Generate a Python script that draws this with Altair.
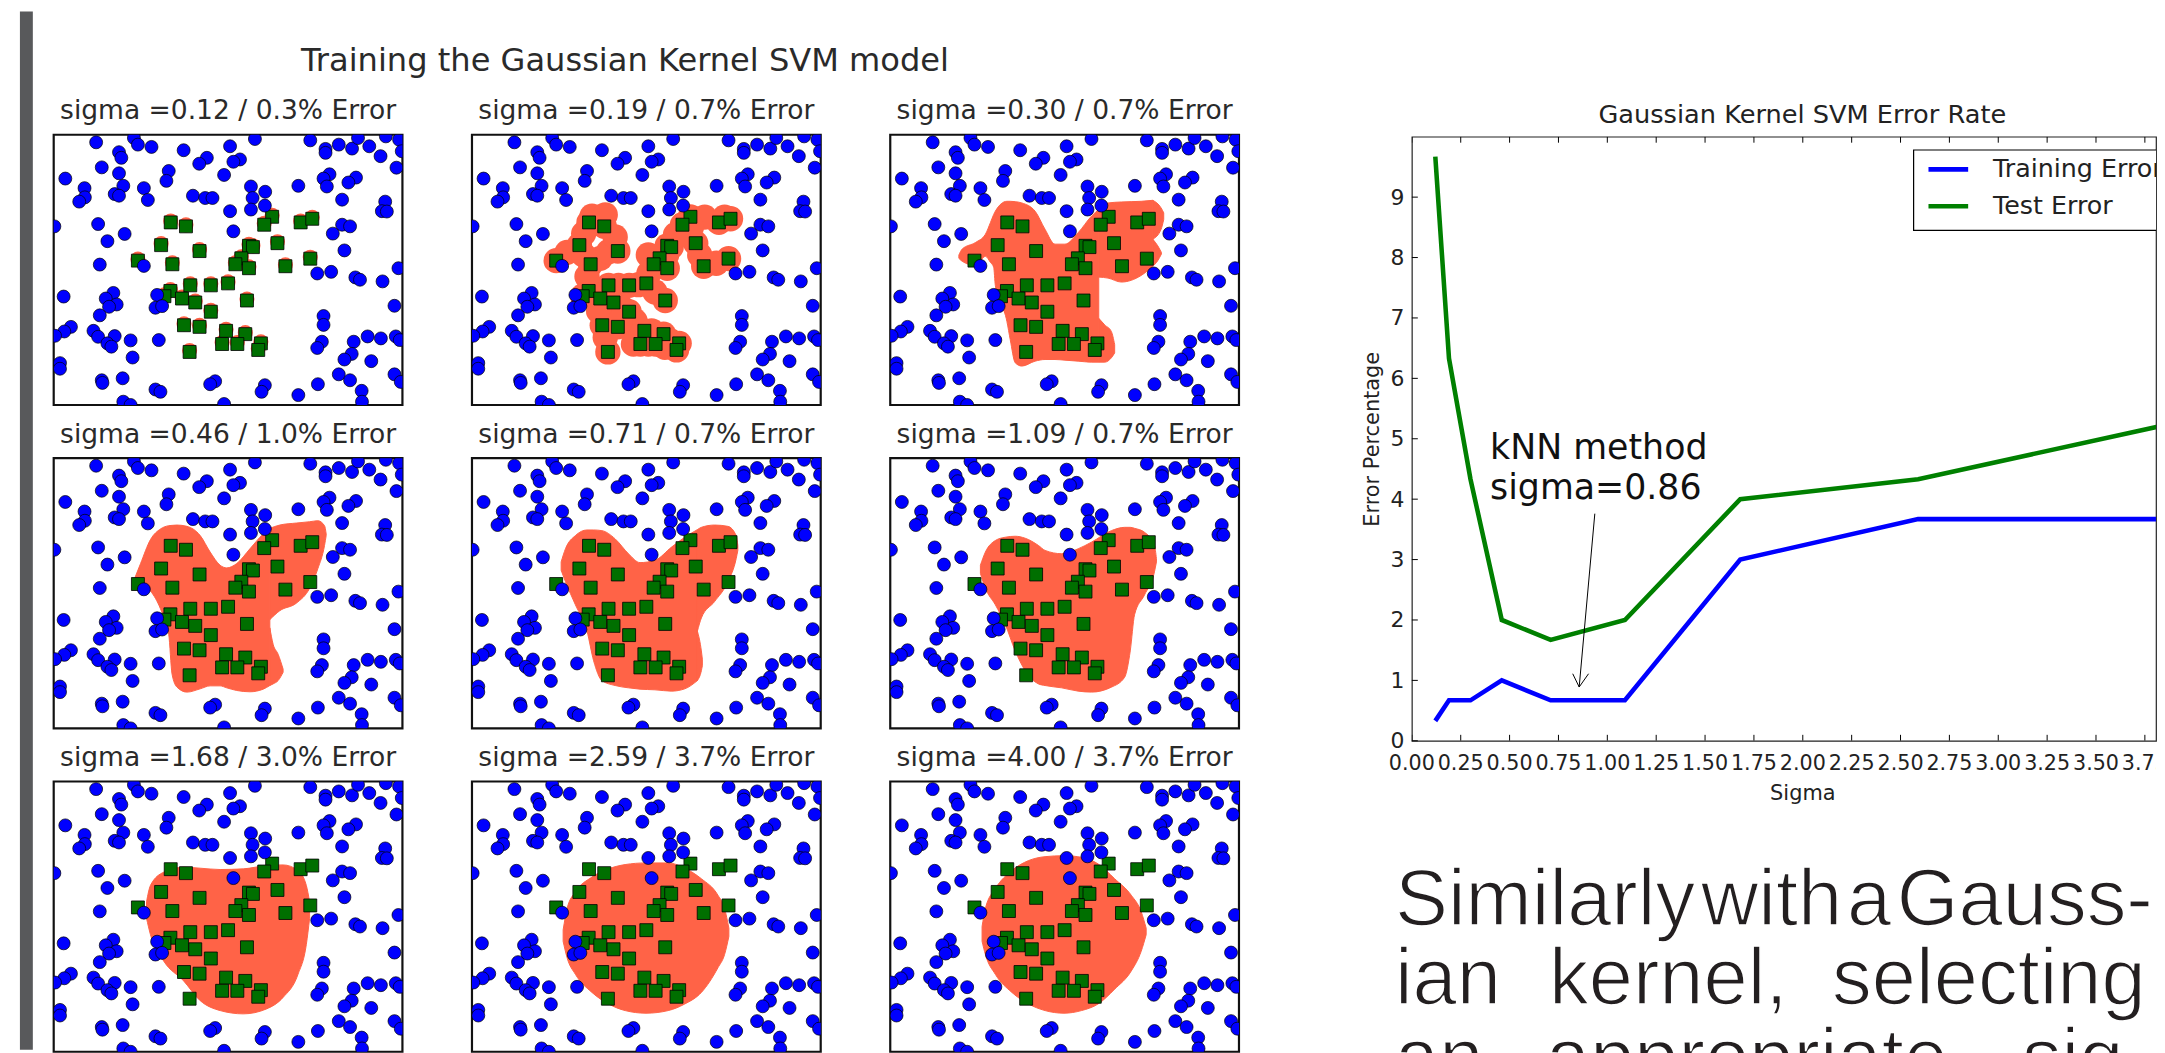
import altair as alt
import pandas as pd

FONT = "DejaVu Sans"
TOMATO = "#ff6347"

# ---- scatter data
BLUE_X = [166,280,292,333,235,242,430,570,645,812,858,858,898,938,956,990,1040,1024,1080,1088,1072,
          500,477,600,580,552,183,235,385,378,73,131,132,115,248,222,235,310,322,458,495,517,633,676,638,633,675,570,776,870,852,862,950,927,908,1038,1028,1043,
          172,252,200,40,580,908,932,880,915,177,310,1078,833,875,948,962,1030,68,218,195,228,205,177,350,345,365,1066,852,852,
          90,70,42,158,172,222,200,212,270,355,985,1025,1070,1082,847,833,943,937,915,996,276,57,57,898,932,1066,1085,183,185,246,345,360,525,510,675,665,776,835,967,968,248,270,552]
BLUE_Y = [138,125,145,152,168,185,162,150,128,132,158,170,145,157,125,150,120,180,130,165,215,
          185,203,190,197,237,214,232,225,255,248,277,305,318,270,295,300,277,313,300,307,307,272,288,307,342,330,347,270,235,248,272,245,260,312,318,347,348,
          386,416,438,393,408,388,393,415,466,509,513,520,536,531,548,555,560,606,595,612,630,637,663,601,640,635,634,665,692,
          698,712,725,710,728,726,748,758,739,738,727,733,727,738,743,762,743,780,797,802,791,808,825,842,860,842,865,860,868,854,888,895,863,872,875,895,905,872,892,925,925,935,932]
GREEN_X = [391,437,362,478,396,292,450,512,564,390,372,425,465,512,621,431,478,558,616,546,592,663,655,448,697,673,783,818,713,627,639,604,586,627,737,812]
GREEN_Y = [381,393,450,468,508,497,572,572,566,589,605,612,624,652,618,693,698,710,720,750,750,748,768,774,364,388,381,370,444,452,456,490,508,520,514,491]

TITLES = ["sigma =0.12 / 0.3% Error","sigma =0.19 / 0.7% Error","sigma =0.30 / 0.7% Error",
          "sigma =0.46 / 1.0% Error","sigma =0.71 / 0.7% Error","sigma =1.09 / 0.7% Error",
          "sigma =1.68 / 3.0% Error","sigma =2.59 / 3.7% Error","sigma =4.00 / 3.7% Error"]

# ---- decision regions
HALO = {0: 230, 1: 650}
# extra region centres of the sigma=0.19 panel, where neighbouring halos merge
MERGE_X = [325,375,375,385,480,540,572,625,652,740,725,775,590,490,440,530,580,635,570,620,450,405,420,485,525,610,425,450,470,400,440,700,800,570,660]
MERGE_Y = [472,415,480,545,572,570,535,480,418,365,480,505,592,640,730,680,710,740,750,760,605,610,650,680,750,510,490,470,425,362,358,395,365,480,420]
# each strip is (x, upper edge, lower edge)
BLOBS = {
 2: ([[(240,478,488),(250,460,497),(290,440,510),(320,415,482),(335,380,500),(345,355,515),(350,345,570),(385,315,680),(395,315,735),(410,316,805),(430,320,815),(470,345,800),(500,400,795),(530,445,795),(560,445,797),(600,410,800),(640,360,803),(662,340,803)],
      [(662,340,545),(690,320,548),(730,317,560),(790,315,540),(825,312,512)],
      [(825,312,430),(850,335,400),(858,350,370)],
      [(825,430,512),(840,450,495),(851,470,475)],
      [(662,670,803),(680,690,803),(700,710,790),(710,750,775)]], 5, 2),
 3: ([[(283,478,485),(300,435,492),(330,362,518),(360,330,572),(385,320,650),(395,319,770),(410,318,810),(440,322,825),(480,350,815),(510,400,806),(540,440,806),(560,448,812),(590,435,820),(630,390,824),(670,345,816),(690,328,805)],
      [(690,328,605),(720,318,578),(770,312,555),(810,308,510),(835,305,450),(855,320,380),(860,345,350)],
      [(690,630,805),(700,680,800),(715,710,790),(730,755,765)]], 0, 0),
 4: ([[(307,430,455),(320,390,490),(350,350,560),(385,333,640),(405,333,730),(430,335,790),(470,360,805),(510,405,812),(545,432,816),(590,425,818),(640,385,822),(680,355,815),(718,332,790)],
      [(718,332,640),(730,325,600),(770,318,550),(810,322,490),(835,350,420),(840,380,395)],
      [(718,640,790),(730,700,760),(733,725,745)]], 0, 0),
 5: ([[(305,440,465),(320,400,510),(350,365,560),(380,355,620),(410,352,700),(440,358,760),(480,380,800),(500,395,805),(550,405,812),(600,390,822),(640,370,825),(700,335,810),(740,325,780),(757,325,700),(770,328,590),(800,340,530),(830,380,460),(836,420,430)]], 5, 0),
 6: ([[(318,470,520),(330,420,570),(370,380,650),(430,365,710),(480,368,770),(540,372,800),(610,370,810),(680,360,795),(730,358,760),(775,375,690),(800,420,600),(810,470,520)]], 0, 10),
 7: ([[(313,555,590),(325,490,640),(350,440,690),(400,395,745),(450,370,780),(500,357,800),(563,352,808),(630,352,800),(680,368,780),(730,400,745),(780,450,670),(800,490,630),(813,550,575)]], 0, 10),
 8: ([[(310,545,590),(320,490,630),(350,430,690),(400,375,745),(450,345,780),(500,333,800),(557,330,808),(610,335,800),(660,355,780),(710,400,735),(760,450,680),(790,500,620),(805,550,570)]], 5, 10),
}

# ---- error-rate curves
SIGMA = [0.12,0.19,0.30,0.46,0.71,1.09,1.68,2.59,4.00]
TRAIN = [0.33,0.67,0.67,1.00,0.67,0.67,3.00,3.67,3.67]
TEST  = [9.67,6.33,4.33,2.00,1.67,2.00,4.00,4.33,5.33]
X_TICKS = [i*0.25 for i in range(17)]
Y_TICKS = list(range(10))
SERIES = ["Training Error", "Test Error"]
LEGEND_Y = [9.46, 8.85]

# ---- page text
WORDS = [("Similarly",0,1398),("with",0,1706),("a",0,1853),("Gauss-",0,1903),
         ("ian",1,1398),("kernel,",1,1553),("selecting",1,1838),
         ("an",2,1398),("appropriate",2,1550),("sig-",2,2029)]

pts_blue = pd.DataFrame({"x":BLUE_X,"y":BLUE_Y})
pts_green = pd.DataFrame({"x":GREEN_X,"y":GREEN_Y})
pts_merge = pd.DataFrame({"x":MERGE_X,"y":MERGE_Y})
SX = alt.Scale(domain=[38,1090], nice=False, zero=False)
SY = alt.Scale(domain=[935,115], nice=False, zero=False)
X = alt.X("x:Q", scale=SX, axis=None)
Y = alt.Y("y:Q", scale=SY, axis=None)

def panel(i):
    layers = []
    if i in BLOBS:
        strips, dx, dy = BLOBS[i]
        rows = [{"x":p[0]+dx,"top":p[1]+dy,"bot":p[2]+dy,"seg":k} for k,s in enumerate(strips) for p in s]
        layers.append(alt.Chart(pd.DataFrame(rows)).mark_area(color=TOMATO, stroke=TOMATO, strokeWidth=1, interpolate="monotone", clip=True).encode(
            x=X, y=alt.Y("top:Q", scale=SY, axis=None), y2="bot:Q", detail="seg:N"))
    else:
        layers.append(alt.Chart(pts_green).mark_circle(color=TOMATO, opacity=1, size=HALO[i], clip=True, yOffset=-1.5 if i == 0 else 0).encode(x=X, y=Y))
        if i == 1:
            layers.append(alt.Chart(pts_merge).mark_circle(color=TOMATO, opacity=1, size=HALO[i], clip=True).encode(x=X, y=Y))
    layers.append(alt.Chart(pts_green).mark_square(fill="#006f00", stroke="#000000", strokeWidth=1, strokeOpacity=0.8, opacity=1, size=170, clip=True).encode(x=X, y=Y))
    layers.append(alt.Chart(pts_blue).mark_circle(fill="#0000ff", stroke="#000000", strokeWidth=1, strokeOpacity=0.7, opacity=1, size=170, clip=True).encode(x=X, y=Y))
    return alt.layer(*layers).properties(
        width=351, height=272,
        title=alt.TitleParams(TITLES[i], font=FONT, fontSize=26.7, fontWeight="normal", color="#2a2a2a", offset=10, anchor="middle"),
        view=alt.ViewConfig(stroke="#111111", strokeWidth=2.2),
    )

grid = alt.concat(*[panel(i) for i in range(9)], columns=3, bounds="flush", spacing={"row":53.5,"column":70})

blank = pd.DataFrame({"a":[0]})
head = alt.Chart(pd.DataFrame({"t":["Training the Gaussian Kernel SVM model"]})).mark_text(
    font=FONT, fontSize=32.3, color="#2a2a2a", align="center", baseline="alphabetic").encode(
    text="t:N", x=alt.value(575), y=alt.value(60)).properties(width=1296, height=84, view=alt.ViewConfig(stroke=None))

left = alt.vconcat(head, grid, spacing=2)

bar = alt.Chart(blank).mark_rect(color="#58595b").encode(
    x=alt.value(12), x2=alt.value(25), y=alt.value(0), y2=alt.value(1045)).properties(
    width=25, height=1045, view=alt.ViewConfig(stroke=None))

# ---- right chart: its right part runs off the page, as in the reference
W, H = 749, 608
X_MAX = 3.807
curves = pd.DataFrame({"sigma":SIGMA*2, "err":TRAIN+TEST, "name":["Training Error"]*9+["Test Error"]*9})
RX = alt.Scale(domain=[0,X_MAX], nice=False, zero=False)
RY = alt.Scale(domain=[0,10], nice=False, zero=False)
COL = alt.Scale(domain=SERIES, range=["#0000ff","#008000"])
lines = alt.Chart(curves).mark_line(strokeWidth=4.6, clip=True).encode(
    x=alt.X("sigma:Q", scale=RX, axis=None),
    y=alt.Y("err:Q", scale=RY, axis=alt.Axis(values=Y_TICKS, format="d", title="Error Percentage", labelFont=FONT, titleFont=FONT, labelFontSize=22,
            titleFontSize=21, titleFontWeight="normal", labelColor="#222222", titleColor="#222222", ticks=False, domain=False, grid=False,
            labelPadding=8, titlePadding=8, labelFlush=False)),
    color=alt.Color("name:N", scale=COL, legend=None),
    detail="name:N",
)
xt = pd.DataFrame({"t":X_TICKS})
yt = pd.DataFrame({"t":Y_TICKS})
tb = alt.Chart(xt).mark_rule(color="black", strokeWidth=1, clip=True).encode(x=alt.X("t:Q", scale=RX), y=alt.value(H), y2=alt.value(H-6))
tt = alt.Chart(xt).mark_rule(color="black", strokeWidth=1, clip=True).encode(x=alt.X("t:Q", scale=RX), y=alt.value(0), y2=alt.value(6))
tl = alt.Chart(yt).mark_rule(color="black", strokeWidth=1).encode(y=alt.Y("t:Q", scale=RY), x=alt.value(0), x2=alt.value(6))
note = alt.Chart(pd.DataFrame({"x":[0.40,0.40],"y":[4.66,4.0],"t":["kNN method","sigma=0.86"]})).mark_text(
    font=FONT, fontSize=35, align="left", baseline="alphabetic", color="#111111").encode(
    x=alt.X("x:Q", scale=RX), y=alt.Y("y:Q", scale=RY), text="t:N")
shaft = alt.Chart(pd.DataFrame({"x":[0.936],"y":[3.76],"x2":[0.856],"y2":[0.89]})).mark_rule(color="black", strokeWidth=1).encode(
    x=alt.X("x:Q", scale=RX), y=alt.Y("y:Q", scale=RY), x2="x2:Q", y2="y2:Q")
arrow = alt.Chart(pd.DataFrame({"x":[0.823,0.856,0.904],"y":[1.11,0.89,1.11],"o":[0,1,2]})).mark_line(color="black", strokeWidth=1).encode(
    x=alt.X("x:Q", scale=RX), y=alt.Y("y:Q", scale=RY), order="o:Q")
# legend, cut off by the page edge like the rest of the chart
leg_box = alt.Chart(pd.DataFrame({"x":[2.567],"x2":[4.2],"y":[9.78],"y2":[8.45]})).mark_rect(
    fill="white", stroke="black", strokeWidth=1.2, clip=True).encode(
    x=alt.X("x:Q", scale=RX), x2="x2:Q", y=alt.Y("y:Q", scale=RY), y2="y2:Q")
leg_df = pd.DataFrame({"name":SERIES, "y":LEGEND_Y, "a":[2.643]*2, "b":[2.846]*2, "c":[2.973]*2})
leg_lines = alt.Chart(leg_df).mark_rule(strokeWidth=4.6, clip=True).encode(
    x=alt.X("a:Q", scale=RX), x2="b:Q", y=alt.Y("y:Q", scale=RY), color=alt.Color("name:N", scale=COL, legend=None))
leg_text = alt.Chart(leg_df).mark_text(font=FONT, fontSize=25.5, align="left", baseline="middle", color="#222222", clip=True).encode(
    x=alt.X("c:Q", scale=RX), y=alt.Y("y:Q", scale=RY), text="name:N")
right_chart = alt.layer(lines, tb, tt, tl, shaft, arrow, note, leg_box, leg_lines, leg_text).properties(
    width=W, height=H,
    title=alt.TitleParams("Gaussian Kernel SVM Error Rate", font=FONT, fontSize=25.8, fontWeight="normal", color="#222222", offset=8, anchor="middle", dx=18.5),
    view=alt.ViewConfig(stroke="#222222", strokeWidth=1.2),
)

# x tick labels and title; only the last labels meet the page edge and are cut
tick_df = pd.DataFrame({"t":X_TICKS, "s":[f"{v:.2f}" for v in X_TICKS]})
ticklabels = alt.Chart(tick_df[tick_df.t < 3.6]).mark_text(font=FONT, fontSize=20.8, align="center", baseline="middle", color="#222222").encode(
    x=alt.X("t:Q", scale=RX, axis=None), y=alt.value(21), text="s:N")
ticklabels_cut = alt.Chart(tick_df[tick_df.t >= 3.6]).mark_text(font=FONT, fontSize=20.8, align="center", baseline="middle", color="#222222", clip=True).encode(
    x=alt.X("t:Q", scale=RX, axis=None), y=alt.value(21), text="s:N")
xtitle = alt.Chart(pd.DataFrame({"t":["Sigma"]})).mark_text(font=FONT, fontSize=21, align="center", baseline="middle", color="#222222").encode(
    x=alt.value(393.5), y=alt.value(52), text="t:N")
xaxis = alt.layer(ticklabels, ticklabels_cut, xtitle).properties(width=W, height=60, view=alt.ViewConfig(stroke=None))

LINE_Y = [927, 1007, 1087]
TEXT_X0, TEXT_Y0 = 1415, 806
words = pd.DataFrame({"t":[w[0] for w in WORDS],
                      "x":[w[2]-TEXT_X0 for w in WORDS],
                      "y":[LINE_Y[w[1]]-TEXT_Y0 for w in WORDS]})
page = alt.Chart(words).mark_text(font="Liberation Sans", fontSize=80, align="left", baseline="alphabetic",
        color="#231f20", stroke="white", strokeWidth=1.6).encode(
    x=alt.X("x:Q", scale=alt.Scale(domain=[0,749], nice=False, zero=False), axis=None),
    y=alt.Y("y:Q", scale=alt.Scale(domain=[290,0], nice=False, zero=False), axis=None),
    text="t:N").properties(width=W, height=290, view=alt.ViewConfig(stroke=None))

spacer = alt.Chart(blank).mark_rule(opacity=0).encode(x=alt.value(0)).properties(width=10, height=124, view=alt.ViewConfig(stroke=None))
right = alt.vconcat(spacer, right_chart, xaxis, page, spacing=2, bounds="flush")

chart = alt.hconcat(bar, left, right, spacing=19).properties(padding=0, background="white")
chart.save("out.html", embed_options={"renderer": "svg", "actions": False})
